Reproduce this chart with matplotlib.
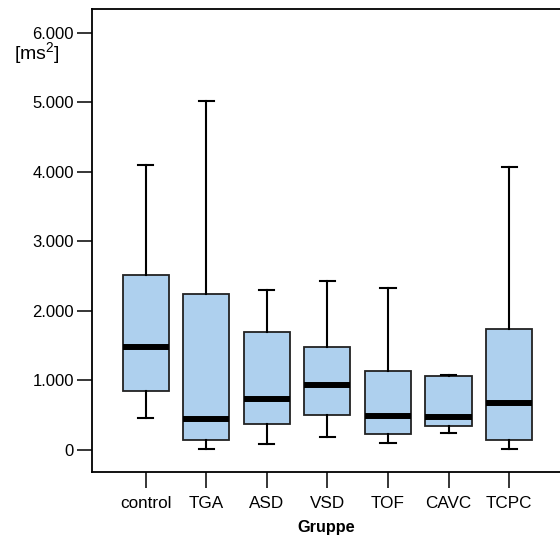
import matplotlib
matplotlib.use("Agg")
import matplotlib.pyplot as plt
from matplotlib.ticker import FuncFormatter

plt.rcParams["font.family"] = ["Liberation Sans", "DejaVu Sans"]
plt.rcParams["mathtext.fontset"] = "custom"
plt.rcParams["mathtext.rm"] = "Liberation Sans"
plt.rcParams["mathtext.it"] = "Liberation Sans"

# ── data ────────────────────────────────────────────────
groups = ["control", "TGA", "ASD", "VSD", "TOF", "CAVC", "TCPC"]
whislo = [456, 14, 86, 183, 96, 245, 14]
q1 = [849, 135, 374, 499, 221, 337, 135]
med = [1473, 442, 725, 926, 485, 466, 672]
q3 = [2508, 2244, 1693, 1481, 1128, 1064, 1736]
whishi = [4099, 5010, 2293, 2422, 2326, 1074, 4062]
yticks = [0, 1000, 2000, 3000, 4000, 5000, 6000]

BOX_COLOR = "#AED0EE"

stats = [
    {"label": g, "whislo": lo, "q1": a, "med": m, "q3": b, "whishi": hi, "fliers": []}
    for g, lo, a, m, b, hi in zip(groups, whislo, q1, med, q3, whishi)
]

fig = plt.figure(figsize=(5.6, 5.39), dpi=100)
ax = fig.add_axes([0.1637, 0.1237, 0.8363, 0.8596])

ax.bxp(
    stats, positions=range(len(groups)), widths=0.76, patch_artist=True,
    showfliers=False,
    boxprops=dict(facecolor=BOX_COLOR, edgecolor="#222222", linewidth=1.3),
    medianprops=dict(color="black", linewidth=4.3, solid_capstyle="butt"),
    whiskerprops=dict(color="black", linewidth=1.5),
    capprops=dict(color="black", linewidth=1.5),
    capwidths=0.25,
)

ax.set_xlim(-0.89, 6.84)
ax.set_ylim(-325, 6338)
ax.set_yticks(yticks)
ax.yaxis.set_major_formatter(FuncFormatter(lambda v, p: f"{int(v):,}".replace(",", ".")))
ax.set_xticks(range(len(groups)))
ax.set_xticklabels(groups)

ax.spines["right"].set_visible(False)
for s in ["left", "top", "bottom"]:
    ax.spines[s].set_linewidth(1.3)
    ax.spines[s].set_color("black")

ax.tick_params(axis="y", direction="out", length=10.8, width=1.1, pad=2, labelsize=12)
ax.tick_params(axis="x", direction="out", length=11.5, width=1.1, pad=5.5, labelsize=12.3)

ax.set_xlabel("Gruppe", fontsize=11.7, fontweight="bold", labelpad=6.5)
fig.text(14 / 560, 1 - 53 / 539, "[ms$^{2}$]", fontsize=14, ha="left", va="center")

fig.savefig("out.png", dpi=100, facecolor="white")
